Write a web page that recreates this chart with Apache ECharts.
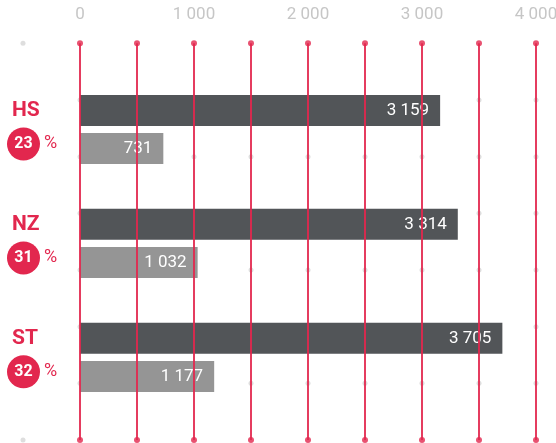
<!DOCTYPE html>
<html>
<head>
<meta charset="utf-8">
<script src="https://cdn.jsdelivr.net/npm/echarts@6/dist/echarts.min.js"></script>
<style>
  html, body { margin: 0; padding: 0; background: #fff; overflow: hidden; }
  #chart { width: 556px; height: 443px; }
</style>
</head>
<body>
<div id="chart"></div>
<script>
var categories = ["HS", "NZ", "ST"];
var shares = [23, 31, 32];
var totalValues = [3159, 3314, 3705];
var partValues = [731, 1032, 1177];
var tickValues = [0, 1000, 2000, 3000, 4000];
var gridLineValues = [0, 500, 1000, 1500, 2000, 2500, 3000, 3500, 4000];

var red = "#e2274e";
var font = "Roboto, sans-serif";

function fmt(v) {
  return String(v).replace(/\B(?=(\d{3})+(?!\d))/g, " ");
}

// dots on the grid (decoration): top/bottom red, middle faint gray
var redDots = [], grayDots = [], cornerDots = [[-500, 0], [-500, 7]];
gridLineValues.forEach(function (x) {
  redDots.push([x, 0], [x, 7]);
  for (var r = 1; r <= 6; r++) grayDots.push([x, r]);
});

var chart = echarts.init(document.getElementById("chart"));
var option = {
  animation: false,
  grid: [
    { left: 80, right: 20, top: 72.5, bottom: 28.7, outerBoundsMode: "none" },
    { left: 80, right: 20, top: 43.3, bottom: 3, outerBoundsMode: "none" }
  ],
  xAxis: [
    { gridIndex: 0, type: "value", min: 0, max: 4000, show: false },
    {
      gridIndex: 1, type: "value", min: 0, max: 4000, interval: 500,
      position: "top",
      axisLine: { show: false },
      axisTick: { show: false },
      splitLine: { show: false },
      axisLabel: {
        margin: 20,
        color: "#c6c6c6",
        fontFamily: font,
        fontSize: 17,
        formatter: function (v) {
          return tickValues.indexOf(v) >= 0 ? fmt(v) : "";
        }
      }
    }
  ],
  yAxis: [
    {
      gridIndex: 0, type: "category", data: categories, inverse: true,
      axisLine: { show: false },
      axisTick: { show: false },
      axisLabel: {
        align: "left",
        margin: 73,
        formatter: function (name, idx) {
          return "{name|" + name + "}\n{circ|" + shares[idx] + "}{pct|%}";
        },
        rich: {
          name: {
            fontFamily: "Roboto", fontWeight: "bold", fontSize: 21,
            color: red, lineHeight: 29, padding: [0, 0, 0, 5]
          },
          circ: {
            fontFamily: "Roboto", fontWeight: "bold", fontSize: 16,
            color: "#fff", backgroundColor: red,
            width: 33, height: 33, borderRadius: 17, align: "center",
            lineHeight: 38
          },
          pct: {
            fontFamily: "Roboto", fontSize: 18, color: red,
            padding: [0, 0, 0, 4], lineHeight: 38
          }
        }
      }
    },
    { gridIndex: 1, type: "value", min: 0, max: 7, inverse: true, show: false }
  ],
  series: [
    {
      type: "bar", xAxisIndex: 0, yAxisIndex: 0, z: 4,
      data: totalValues, barWidth: 31, barGap: "23%",
      itemStyle: { color: "#525558" },
      label: {
        show: true, position: "insideRight", distance: 11,
        color: "#fff", fontFamily: font, fontSize: 17,
        formatter: function (p) { return fmt(p.value); }
      }
    },
    {
      type: "bar", xAxisIndex: 0, yAxisIndex: 0, z: 4,
      data: partValues, barWidth: 31, barGap: "23%",
      itemStyle: { color: "#959595" },
      label: {
        show: true, position: "insideRight", distance: 11,
        color: "#fff", fontFamily: font, fontSize: 17,
        formatter: function (p) { return fmt(p.value); }
      }
    },
    {
      // red vertical lines, drawn as markLines so the 4000 one is kept
      type: "scatter", xAxisIndex: 1, yAxisIndex: 1, z: 2, clip: false,
      data: redDots, symbolSize: 6, silent: true,
      itemStyle: { color: red },
      markLine: {
        silent: true, symbol: "none", label: { show: false },
        lineStyle: { color: red, width: 2, type: "solid", opacity: 0.9 },
        data: gridLineValues.map(function (v) { return { xAxis: v }; })
      }
    },
    {
      type: "scatter", xAxisIndex: 1, yAxisIndex: 1, z: 3, clip: false,
      data: grayDots, symbolSize: 5, silent: true,
      itemStyle: { color: "#d6d6d6" }
    },
    {
      type: "scatter", xAxisIndex: 1, yAxisIndex: 1, z: 3, clip: false,
      data: cornerDots, symbolSize: 5, silent: true,
      itemStyle: { color: "#d6d6d6" }
    }
  ]
};
chart.setOption(option);
</script>
</body>
</html>
